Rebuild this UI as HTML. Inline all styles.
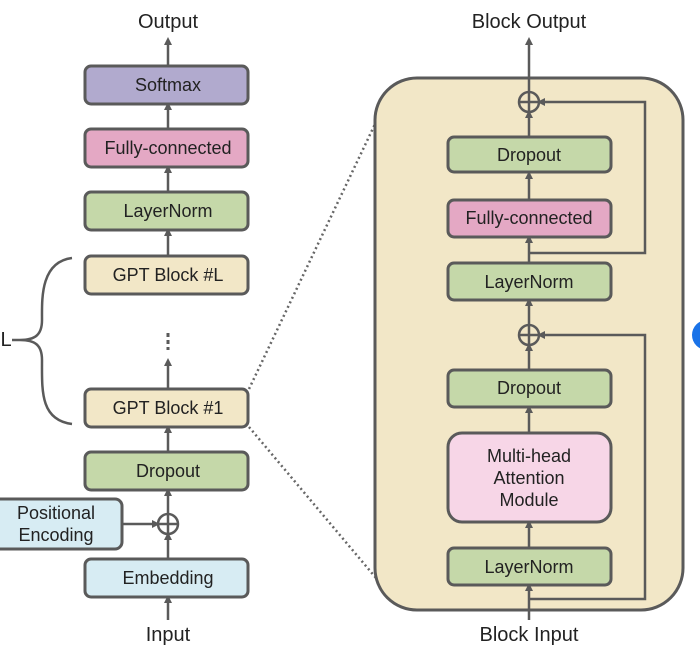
<!DOCTYPE html>
<html><head><style>
body{margin:0;background:#fff;}
svg{display:block;font-family:"Liberation Sans","DejaVu Sans",sans-serif;}
text{font-size:18px;fill:#222;text-anchor:middle;dominant-baseline:central;}
.b{stroke:#5a5a5a;stroke-width:3;}
.l{stroke:#5a5a5a;stroke-width:2.5;fill:none;}
</style></head><body>
<svg width="700" height="655" viewBox="0 0 700 655">
<defs><marker id="a" markerWidth="8" markerHeight="8" refX="4" refY="4" orient="auto" markerUnits="userSpaceOnUse"><path d="M0,0 L8,4 L0,8z" fill="#5a5a5a"/></marker></defs>
<circle cx="707" cy="335" r="15" fill="#1a73e8"/>
<line x1="249" y1="389" x2="376" y2="122" stroke="#666" stroke-width="2.5" stroke-dasharray="2,3"/>
<line x1="249" y1="427" x2="376" y2="578" stroke="#666" stroke-width="2.5" stroke-dasharray="2,3"/>
<g class="l" marker-end="url(#a)">
<line x1="168" y1="66" x2="168" y2="41"/>
<line x1="168" y1="129" x2="168" y2="106"/>
<line x1="168" y1="192" x2="168" y2="169"/>
<line x1="168" y1="256" x2="168" y2="232"/>
<line x1="168" y1="389" x2="168" y2="362"/>
<line x1="168" y1="452" x2="168" y2="429"/>
<line x1="168" y1="514" x2="168" y2="492"/>
<line x1="168" y1="559" x2="168" y2="536"/>
<line x1="168" y1="620" x2="168" y2="599"/>
<line x1="122" y1="524" x2="156" y2="524"/>
</g>
<circle cx="168" cy="524" r="10" fill="#fff" class="l"/>
<line x1="158" y1="524" x2="178" y2="524" class="l"/><line x1="168" y1="514" x2="168" y2="534" class="l"/>
<line x1="168" y1="333" x2="168" y2="350" stroke="#5a5a5a" stroke-width="3" stroke-dasharray="4,3"/>
<path d="M72,258 C40,262 42,300 42,320 C42,335 35,340 20,340 C35,340 42,345 42,360 C42,390 40,420 72,424" class="l" stroke-width="2"/>
<line x1="20" y1="340" x2="12" y2="340" class="l" stroke-width="2"/>
<text x="6" y="340" style="font-size:20px">L</text>
<rect x="85" y="66" width="163" height="38" rx="6" fill="#b1aace" class="b"/><text x="168" y="85">Softmax</text>
<rect x="85" y="129" width="163" height="38" rx="6" fill="#e4a8c4" class="b"/><text x="168" y="148">Fully-connected</text>
<rect x="85" y="192" width="163" height="38" rx="6" fill="#c5d8a9" class="b"/><text x="168" y="211">LayerNorm</text>
<rect x="85" y="256" width="163" height="38" rx="6" fill="#f2e7c7" class="b"/><text x="168" y="275">GPT Block #L</text>
<rect x="85" y="389" width="163" height="38" rx="6" fill="#f2e7c7" class="b"/><text x="168" y="408">GPT Block #1</text>
<rect x="85" y="452" width="163" height="38" rx="6" fill="#c5d8a9" class="b"/><text x="168" y="471">Dropout</text>
<rect x="85" y="559" width="163" height="38" rx="6" fill="#d7ecf3" class="b"/><text x="168" y="578">Embedding</text>
<rect x="-10" y="499" width="132" height="50" rx="7" fill="#d7ecf3" class="b"/><text x="56" y="513">Positional</text><text x="56" y="535">Encoding</text>
<text x="168" y="22" style="font-size:20px">Output</text>
<text x="168" y="635" style="font-size:20px">Input</text>
<rect x="375" y="78" width="308" height="532" rx="42" fill="#f2e7c7" class="b"/>
<g class="l" marker-end="url(#a)">
<line x1="529" y1="92" x2="529" y2="41"/>
<line x1="529" y1="137" x2="529" y2="114"/>
<line x1="529" y1="200" x2="529" y2="175"/>
<line x1="529" y1="263" x2="529" y2="239"/>
<line x1="529" y1="325" x2="529" y2="302"/>
<line x1="529" y1="370" x2="529" y2="347"/>
<line x1="529" y1="433" x2="529" y2="409"/>
<line x1="529" y1="548" x2="529" y2="524"/>
<line x1="529" y1="620" x2="529" y2="587"/>
<polyline points="529,253 645,253 645,102 541,102"/>
<polyline points="529,599 645,599 645,335 541,335"/>
</g>
<circle cx="529" cy="102" r="10" fill="none" class="l"/><line x1="519" y1="102" x2="539" y2="102" class="l"/><line x1="529" y1="92" x2="529" y2="112" class="l"/>
<circle cx="529" cy="335" r="10" fill="none" class="l"/><line x1="519" y1="335" x2="539" y2="335" class="l"/><line x1="529" y1="325" x2="529" y2="345" class="l"/>
<rect x="448" y="137" width="163" height="35" rx="6" fill="#c5d8a9" class="b"/><text x="529" y="155">Dropout</text>
<rect x="448" y="200" width="163" height="37" rx="6" fill="#e4a8c4" class="b"/><text x="529" y="218">Fully-connected</text>
<rect x="448" y="263" width="163" height="37" rx="6" fill="#c5d8a9" class="b"/><text x="529" y="282">LayerNorm</text>
<rect x="448" y="370" width="163" height="37" rx="6" fill="#c5d8a9" class="b"/><text x="529" y="388">Dropout</text>
<rect x="448" y="433" width="163" height="89" rx="14" fill="#f7d6e7" class="b"/><text x="529" y="456">Multi-head</text><text x="529" y="478">Attention</text><text x="529" y="500">Module</text>
<rect x="448" y="548" width="163" height="37" rx="6" fill="#c5d8a9" class="b"/><text x="529" y="567">LayerNorm</text>
<text x="529" y="22" style="font-size:20px">Block Output</text>
<text x="529" y="635" style="font-size:20px">Block Input</text>
</svg>
</body></html>
